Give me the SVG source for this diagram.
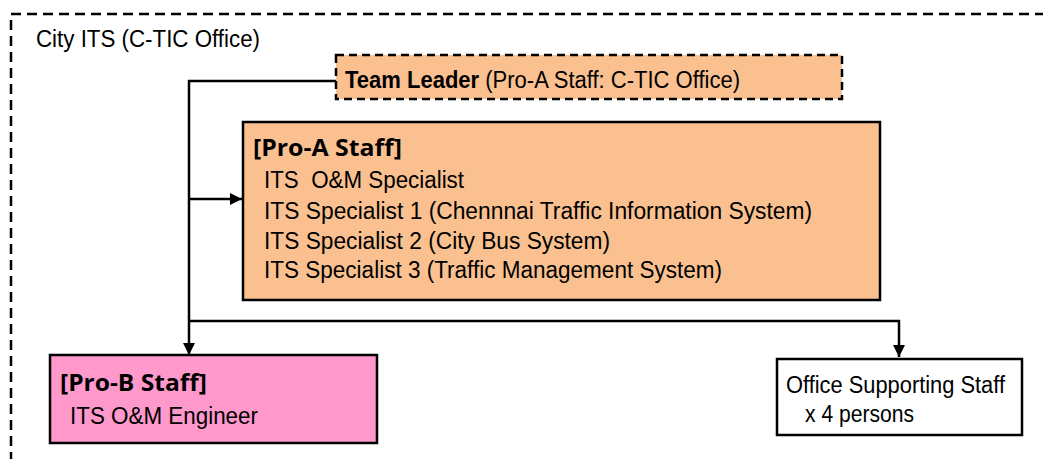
<svg xmlns="http://www.w3.org/2000/svg" width="1043" height="459" viewBox="0 0 1043 459">
<style>
.t{font-family:"Liberation Sans",Arial,sans-serif;font-size:23px;fill:#000;white-space:pre}
.b{font-family:"Open Sans","Noto Sans","Liberation Sans",sans-serif;font-weight:bold;font-size:24px;fill:#000}
.box{stroke:#000;stroke-width:2.5}
.ln{fill:none;stroke:#000;stroke-width:2.5}
</style>
<defs>
<marker id="ah" viewBox="0 0 10 10" refX="10" refY="5" markerWidth="5" markerHeight="5" orient="auto" markerUnits="strokeWidth">
<path d="M0,0 L10,5 L0,10 z" fill="#000"/>
</marker>
</defs>
<g id="frame">
<rect x="11" y="14" width="1050" height="470" fill="none" stroke="#000" stroke-width="2.5" stroke-dasharray="10,6"/>
<text class="t" x="36" y="47" textLength="224" lengthAdjust="spacingAndGlyphs">City ITS (C-TIC Office)</text>
</g>
<g id="connectors">
<polyline class="ln" points="336,81 189,81 189,355" marker-end="url(#ah)"/>
<line class="ln" x1="189" y1="199" x2="242" y2="199" marker-end="url(#ah)"/>
<polyline class="ln" points="189,321 899,321 899,357" marker-end="url(#ah)"/>
</g>
<g id="team-leader">
<rect x="336" y="55" width="506" height="44" fill="#FAC090" stroke="#000" stroke-width="2.5" stroke-dasharray="8,5"/>
<text class="t" x="345" y="88" textLength="395" lengthAdjust="spacingAndGlyphs"><tspan font-weight="bold">Team Leader</tspan> (Pro-A Staff: C-TIC Office)</text>
</g>
<g id="pro-a">
<rect class="box" x="243" y="122" width="637" height="178" fill="#FAC090"/>
<text class="b" x="253" y="156" textLength="149" lengthAdjust="spacingAndGlyphs">[Pro-A Staff]</text>
<text class="t" x="264" y="188" textLength="200" lengthAdjust="spacingAndGlyphs">ITS  O&amp;M Specialist</text>
<text class="t" x="264" y="219" textLength="548" lengthAdjust="spacingAndGlyphs">ITS Specialist 1 (Chennnai Traffic Information System)</text>
<text class="t" x="264" y="249" textLength="346" lengthAdjust="spacingAndGlyphs">ITS Specialist 2 (City Bus System)</text>
<text class="t" x="264" y="278" textLength="458" lengthAdjust="spacingAndGlyphs">ITS Specialist 3 (Traffic Management System)</text>
</g>
<g id="pro-b">
<rect class="box" x="50" y="355" width="327" height="88" fill="#FF99CC"/>
<text class="b" x="60" y="391" textLength="147" lengthAdjust="spacingAndGlyphs">[Pro-B Staff]</text>
<text class="t" x="70" y="424" textLength="188" lengthAdjust="spacingAndGlyphs">ITS O&amp;M Engineer</text>
</g>
<g id="office-support">
<rect class="box" x="777" y="359" width="245" height="76" fill="#fff"/>
<text class="t" x="786" y="393" textLength="219" lengthAdjust="spacingAndGlyphs">Office Supporting Staff</text>
<text class="t" x="805" y="422" textLength="109" lengthAdjust="spacingAndGlyphs">x 4 persons</text>
</g>
</svg>
